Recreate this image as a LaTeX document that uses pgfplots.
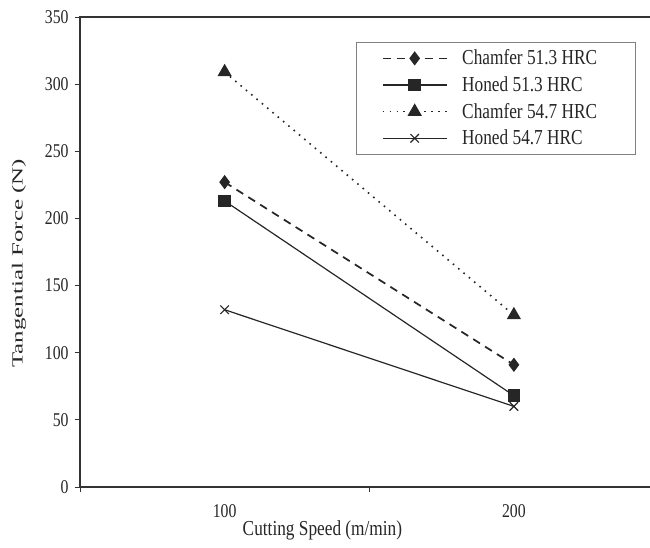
\documentclass[border=0pt]{standalone}
\usepackage{graphicx}
\usepackage{pgfplots}
\pgfplotsset{compat=1.18}
\usepackage{fontspec}
\setmainfont{Liberation Serif}[FakeStretch=0.81]
\newfontfamily\ylfont{Liberation Serif}
\begin{document}
\begin{tikzpicture}
\useasboundingbox (-60pt,-45.75pt) rectangle (427.5pt,365.25pt);
\begin{axis}[
  scale only axis,
  width=433.9pt, height=352.5pt,
  xmin=0.5, xmax=2.5, ymin=0, ymax=350,
  xtick={0.5,1.5,2.5}, xticklabels={},
  extra x ticks={1,2}, extra x tick labels={100,200},
  extra x tick style={major tick length=0pt, xticklabel style={anchor=center, yshift=-18pt}},
  ytick={0,50,...,350},
  xtick pos=bottom, ytick pos=left,
  tick align=outside, major tick length=4pt,
  tick style={black!80, line width=0.6pt},
  axis line style={black!80, line width=1pt},
  /pgf/number format/assume math mode=true,
  tick label style={font=\fontsize{14.6pt}{16pt}\selectfont, black!85},
  yticklabel style={xshift=-1pt},
  xlabel={Cutting Speed (m/min)},
  ylabel={\scalebox{1}[0.62]{\ylfont\fontsize{18.7pt}{20pt}\selectfont Tangential Force (N)}},
  xlabel style={font=\fontsize{16pt}{18pt}\selectfont, black!85, at={(axis description cs:0.419,0)}, anchor=center, yshift=-32.25pt},
  ylabel style={black!85, at={(axis description cs:-0.1054,0.476)}, anchor=center, rotate=0},
  legend cell align=left,
  legend style={at={(rel axis cs:0.477,0.9468)}, anchor=north west,
    draw=black!50, line width=0.8pt, font=\fontsize{16pt}{18pt}\selectfont,
    row sep=3.3pt, inner xsep=19pt, inner ysep=3.5pt, text=black!85},
  legend image code/.code={\draw[mark repeat=2,mark phase=2,#1] plot coordinates {(0pt,0pt)(24pt,0pt)(48pt,0pt)}; \path (57pt,0pt);},
]
\addplot[black!85, line width=1.3pt, dash pattern=on 6pt off 4.5pt, mark=diamond*, mark size=4.3pt, mark options={solid}]
  coordinates {(1,227) (2,91)};
\addlegendentry{Chamfer 51.3 HRC\hspace*{8pt}}
\addplot[black!85, line width=0.9pt, mark=square*, mark size=4.3pt]
  coordinates {(1,213) (2,68)};
\addlegendentry{Honed 51.3 HRC}
\addplot[black!85, line width=1.2pt, dash pattern=on 1.2pt off 4pt, mark=triangle*, mark size=5pt, mark options={solid}]
  coordinates {(1,309) (2,128)};
\addlegendentry{Chamfer 54.7 HRC}
\addplot[black!85, line width=0.9pt, mark=x, mark size=4.5pt]
  coordinates {(1,132) (2,60)};
\addlegendentry{Honed 54.7 HRC}
\end{axis}
\end{tikzpicture}
\end{document}
